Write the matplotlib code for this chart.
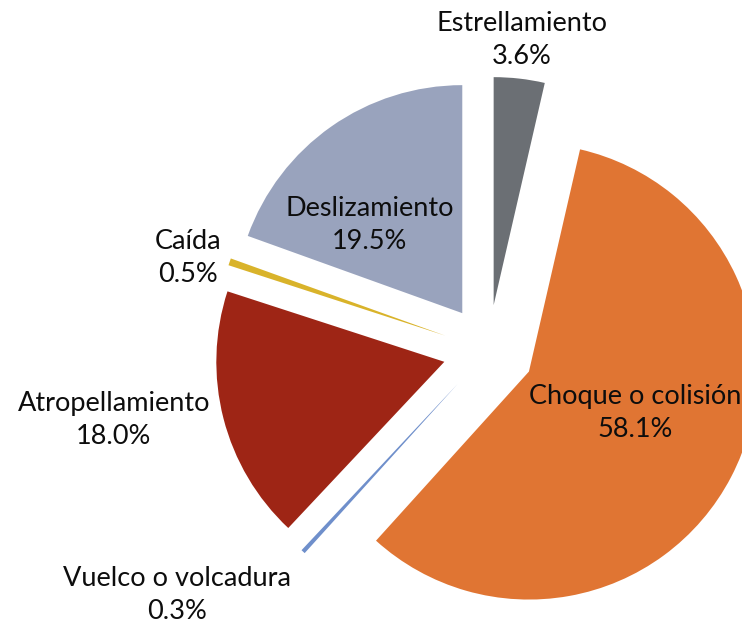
import matplotlib
matplotlib.use("Agg")
import matplotlib.pyplot as plt

# data (clockwise from 12 o'clock)
labels = ["Estrellamiento", "Choque o colisión", "Vuelco o volcadura",
          "Atropellamiento", "Caída", "Deslizamiento"]
values = [3.6, 58.1, 0.3, 18.0, 0.5, 19.5]
colors = ["#6b6f74", "#e07533", "#6f8fcb", "#9e2515", "#d9b32a", "#99a3bd"]

# label centres in axes data units (pie radius = 1)
label_pos = [(0.147, 1.362), (0.643, -0.274), (-1.366, -1.072),
             (-1.643, -0.305), (-1.318, 0.406), (-0.520, 0.550)]

plt.rcParams['font.family'] = ['Lato', 'DejaVu Sans']

fig = plt.figure(figsize=(7.42, 6.25), dpi=100)
ax = fig.add_axes([0, 0, 1, 1])

wedges, _ = ax.pie(values, explode=[0.2] * len(values), colors=colors,
                   startangle=90, counterclock=False, radius=1,
                   wedgeprops=dict(linewidth=0))

for lab, v, (x, y) in zip(labels, values, label_pos):
    ax.text(x, y, "%s\n%.1f%%" % (lab, v), ha='center', va='center',
            fontsize=19.5, color='#0d0d0d', linespacing=1.4)

ax.set_xlim(-2.1425, 1.1118)
ax.set_ylim(-1.204, 1.537)
ax.axis('off')

fig.savefig("out.png", dpi=100)
